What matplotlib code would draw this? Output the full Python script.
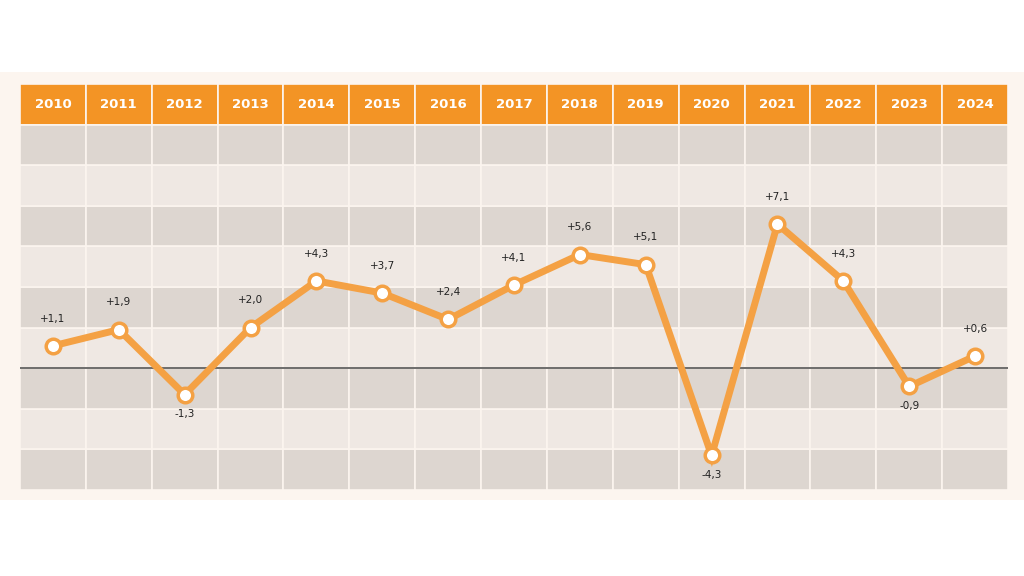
import matplotlib.pyplot as plt
from matplotlib.patches import Rectangle

## data
years = [2010, 2011, 2012, 2013, 2014, 2015, 2016, 2017, 2018, 2019, 2020, 2021, 2022, 2023, 2024]
growth = [1.1, 1.9, -1.3, 2.0, 4.3, 3.7, 2.4, 4.1, 5.6, 5.1, -4.3, 7.1, 4.3, -0.9, 0.6]
labels = ["+1,1", "+1,9", "-1,3", "+2,0", "+4,3", "+3,7", "+2,4", "+4,1", "+5,6", "+5,1",
          "-4,3", "+7,1", "+4,3", "-0,9", "+0,6"]

orange = "#f39425"
line_col = "#f4a144"
cream = "#fcf5ef"
dark = "#ddd6d0"
light = "#efe8e3"

fig = plt.figure(figsize=(10.24, 5.76), dpi=100)
fig.patch.set_facecolor("white")

# cream panel behind the table
bg = fig.add_axes([0, 1 - 500 / 576, 1, 428 / 576])
bg.set_facecolor(cream)
bg.set_xticks([]); bg.set_yticks([])
for s in bg.spines.values():
    s.set_visible(False)

ax = fig.add_axes([20 / 1024, 1 - 490 / 576, 988 / 1024, 406 / 576])
ax.set_xlim(0, len(years))
ax.set_ylim(-6, 14)
ax.axis("off")

n = len(years)
for i in range(n):
    # header cell
    ax.add_patch(Rectangle((i, 12), 1, 2, facecolor=orange, edgecolor=cream, lw=1.2))
    ax.text(i + 0.5, 13, str(years[i]), ha="center", va="center", color="white",
            fontsize=9.5, fontweight="bold", family="Montserrat" if False else "DejaVu Sans")
    for r, y0 in enumerate(range(-6, 12, 2)):
        c = dark if r % 2 == 0 else light
        ax.add_patch(Rectangle((i, y0), 1, 2, facecolor=c, edgecolor=cream, lw=1.2))

ax.plot([-0.1, n], [0, 0], color="#555555", lw=1.2, zorder=3)

xs = [i + 0.5 for i in range(n)]
ax.plot(xs, growth, color=line_col, lw=5, zorder=4, solid_joinstyle="miter")
ax.scatter(xs, growth, s=110, facecolor="white", edgecolor=line_col, linewidth=2.5, zorder=5)

for x, v, t in zip(xs, growth, labels):
    if v >= 0:
        ax.text(x, v + 1.1, t, ha="center", va="bottom", fontsize=7.5, color="#222222")
    else:
        ax.text(x, v - 0.7, t, ha="center", va="top", fontsize=7.5, color="#222222")

fig.savefig("out.png", dpi=100, facecolor="white")
